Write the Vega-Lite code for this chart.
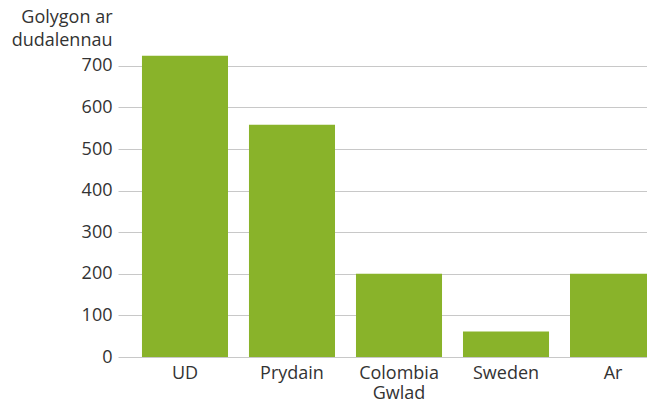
{
  "$schema": "https://vega.github.io/schema/vega-lite/v6.json",
  "autosize": "none",
  "width": 529,
  "height": 312,
  "padding": {"left": 118, "top": 45, "right": 0, "bottom": 44},
  "background": "white",
  "config": {
    "view": {"stroke": null},
    "font": "Open Sans"
  },
  "data": {
    "values": [
      {"gwlad": "UD", "golygon": 724},
      {"gwlad": "Prydain", "golygon": 558},
      {"gwlad": "Colombia Gwlad", "golygon": 200},
      {"gwlad": "Sweden", "golygon": 61},
      {"gwlad": "Ar", "golygon": 200}
    ]
  },
  "mark": {"type": "bar", "color": "#89b32a", "clip": true},
  "encoding": {
    "x": {
      "field": "gwlad",
      "type": "nominal",
      "sort": null,
      "scale": {"range": [0, 562], "paddingInner": 0.196, "paddingOuter": 0.224},
      "axis": {
        "title": null,
        "labelAngle": 0,
        "domain": false,
        "ticks": false,
        "labelFontSize": 18,
        "labelColor": "#333333",
        "labelPadding": 7,
        "labelLineHeight": 20,
        "labelExpr": "split(datum.label, ' ')"
      }
    },
    "y": {
      "field": "golygon",
      "type": "quantitative",
      "scale": {"domain": [0, 750], "nice": false},
      "axis": {
        "values": [0, 100, 200, 300, 400, 500, 600, 700],
        "title": ["Golygon ar", "dudalennau"],
        "titleAngle": 0,
        "titleAlign": "right",
        "titleBaseline": "top",
        "titleX": -6,
        "titleY": -37,
        "titleFontSize": 18,
        "titleFontWeight": "normal",
        "titleColor": "#333333",
        "titleLineHeight": 23,
        "domain": false,
        "ticks": false,
        "labelFontSize": 18,
        "labelColor": "#333333",
        "labelPadding": 6,
        "gridColor": "#c8c8c8",
        "gridWidth": 1
      }
    }
  }
}
